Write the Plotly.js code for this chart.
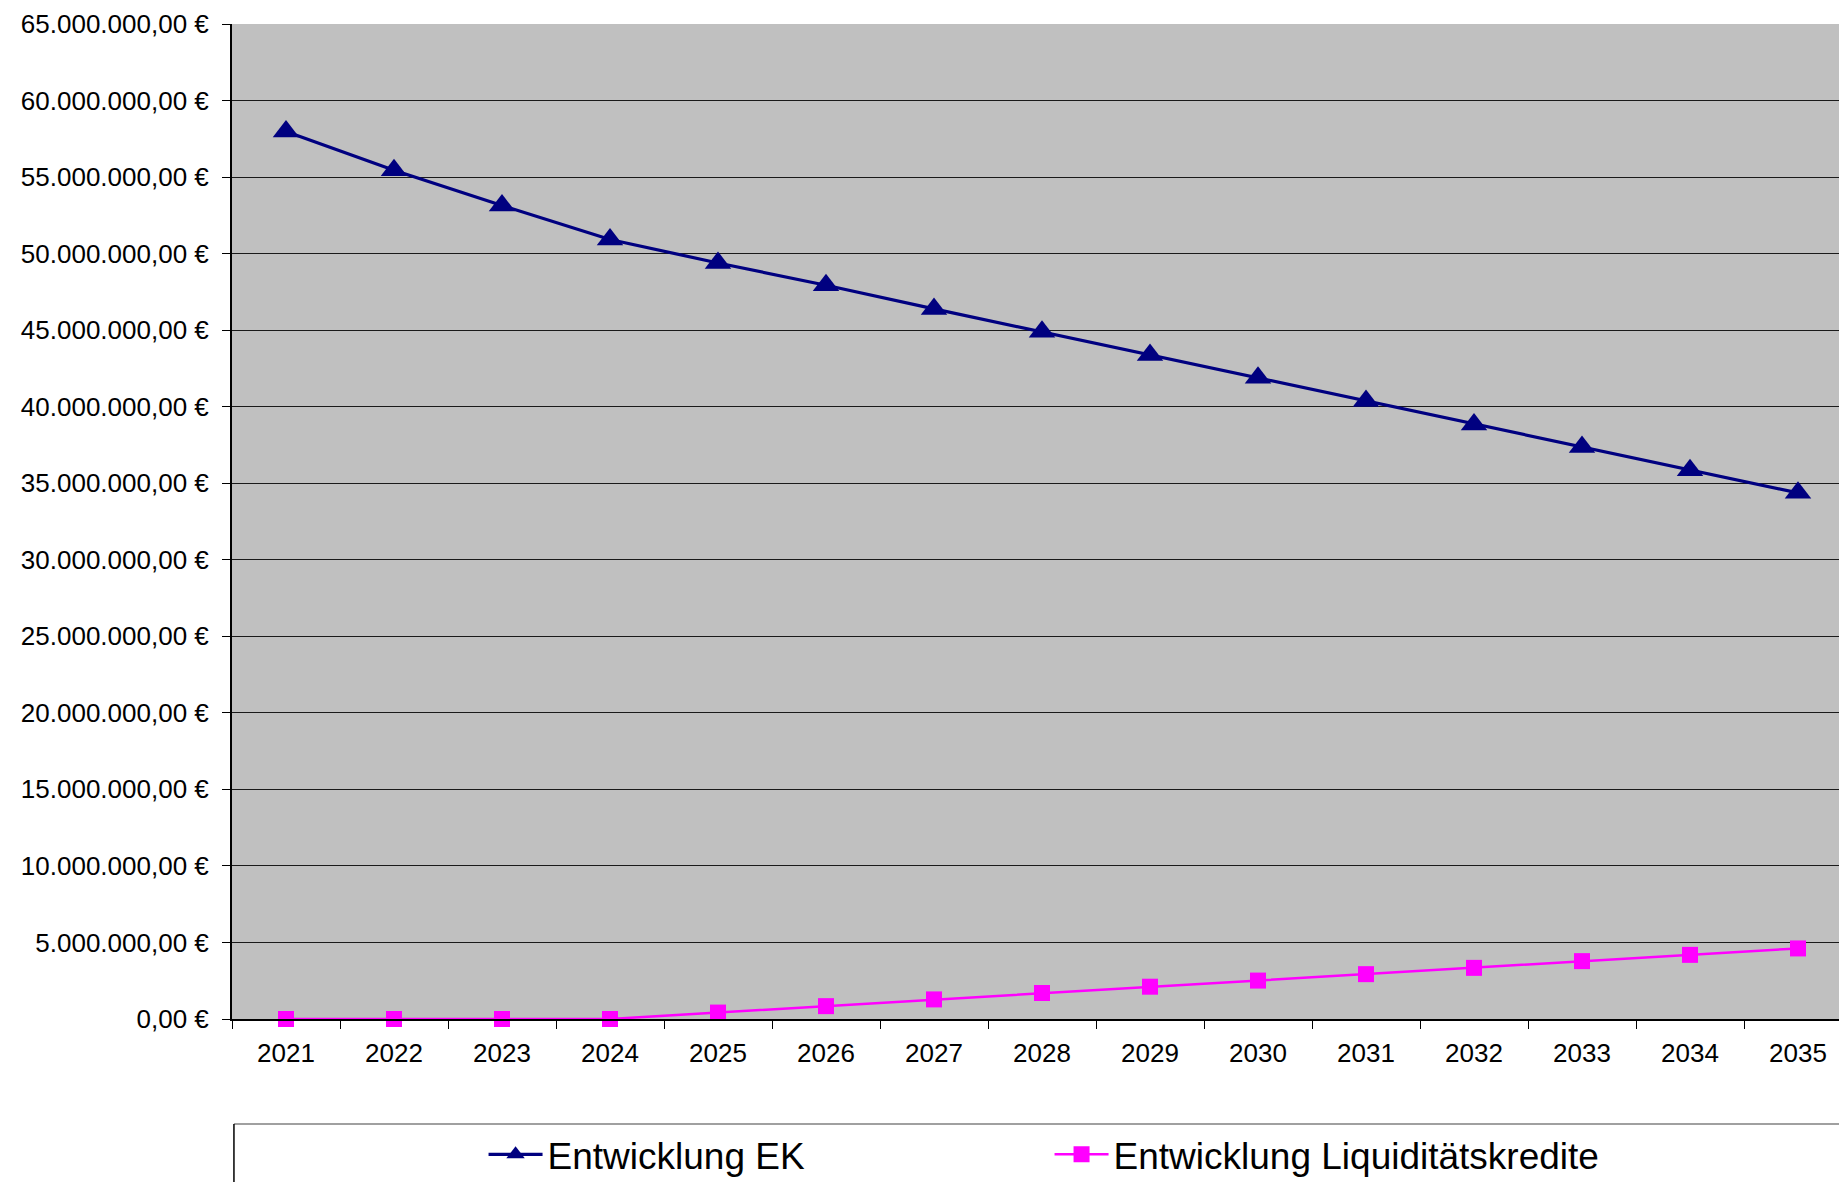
<!DOCTYPE html>
<html>
<head>
<meta charset="utf-8">
<script src="https://cdn.plot.ly/plotly-3.0.1.min.js"></script>
<style>
html, body { margin: 0; padding: 0; overflow: hidden; background: #fff; }
#chart { width: 1900px; height: 1182px; }
</style>
</head>
<body>
<div id="chart"></div>
<script>
const years = ["2021","2022","2023","2024","2025","2026","2027","2028","2029","2030","2031","2032","2033","2034","2035"];
const entwicklungEK = [57970000, 55440000, 53140000, 50920000, 49390000, 47930000, 46390000, 44890000, 43370000, 41890000, 40370000, 38840000, 37360000, 35850000, 34370000];
const liquiditaetskredite = [0, 0, 0, 0, 420000, 840000, 1280000, 1700000, 2110000, 2510000, 2930000, 3340000, 3780000, 4190000, 4610000];
const seriesNames = ["Entwicklung EK", "Entwicklung Liquiditätskredite"];

const FONT = "'Liberation Sans', Arial, sans-serif";

const traces = [
  {
    x: years, y: entwicklungEK, name: seriesNames[0], type: 'scatter', mode: 'lines+markers',
    line: { color: '#000080', width: 3.2 },
    marker: { symbol: 'triangle-up', size: 23, color: '#000080' },
    cliponaxis: false
  },
  {
    x: years, y: liquiditaetskredite, name: seriesNames[1], type: 'scatter', mode: 'lines+markers',
    line: { color: '#FF00FF', width: 2.5 },
    marker: { symbol: 'square', size: 16, color: '#FF00FF' },
    cliponaxis: false
  }
];

const layout = {
  width: 1900, height: 1182,
  margin: { l: 232, r: 48, t: 24, b: 163, autoexpand: false },
  paper_bgcolor: '#ffffff',
  plot_bgcolor: '#C0C0C0',
  separators: ',.',
  font: { family: FONT, size: 26, color: '#000' },
  showlegend: true,
  legend: {
    orientation: 'h', xref: 'container', yref: 'container',
    x: 0.2545, y: 0.023, xanchor: 'left', yanchor: 'middle',
    font: { family: FONT, size: 37, color: '#000' },
    bgcolor: 'rgba(0,0,0,0)', borderwidth: 0,
    itemwidth: 54, entrywidth: 497, traceorder: 'normal'
  },
  xaxis: {
    type: 'category', range: [-0.5, 14.5],
    showline: true, linecolor: '#000', linewidth: 2,
    ticks: 'outside', tickson: 'boundaries', ticklen: 8, tickcolor: '#000', tickwidth: 1,
    ticklabelstandoff: 10,
    showgrid: false, zeroline: false,
    tickfont: { family: FONT, size: 26, color: '#000' },
    fixedrange: true
  },
  yaxis: {
    range: [0, 65000000], dtick: 5000000, tick0: 0,
    tickformat: ',.2f', ticksuffix: ' €',
    showline: true, linecolor: '#000', linewidth: 2,
    ticks: 'outside', ticklen: 8, tickcolor: '#000', tickwidth: 1,
    ticklabelstandoff: 8,
    showgrid: true, gridcolor: '#1a1a1a', gridwidth: 1,
    zeroline: false,
    tickfont: { family: FONT, size: 26, color: '#000' },
    fixedrange: true
  },
  shapes: [
    { type: 'line', xref: 'paper', yref: 'paper', x0: 0.0012, x1: 1.05, y0: -0.1055, y1: -0.1055,
      line: { color: '#A0A0A0', width: 2 } },
    { type: 'line', xref: 'paper', yref: 'paper', x0: 0.0012, x1: 0.0012, y0: -0.1055, y1: -0.2,
      line: { color: '#000', width: 1.5 } }
  ]
};

Plotly.newPlot('chart', traces, layout, { displayModeBar: false, staticPlot: true });
</script>
</body>
</html>
